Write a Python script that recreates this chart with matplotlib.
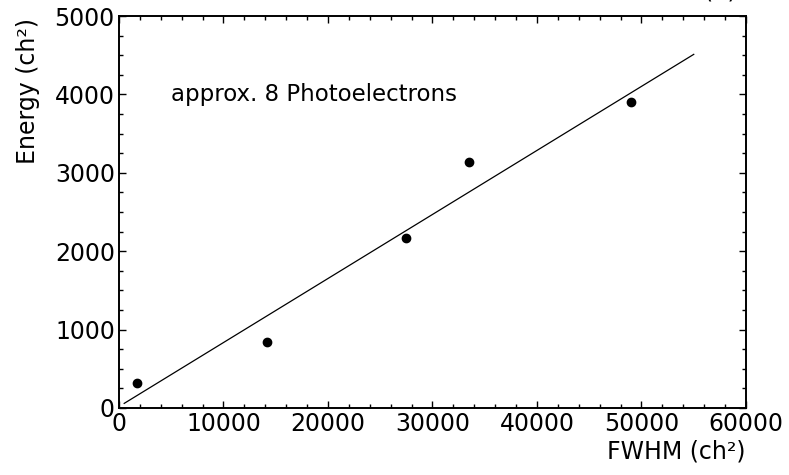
import numpy as np
from matplotlib import pyplot as plt
from matplotlib.ticker import MultipleLocator

# measured points
fwhm = [1700, 14200, 27450, 33500, 49000]
energy = [320, 840, 2170, 3140, 3900]
fit_range = [500, 55000]

plt.rcParams['font.family'] = 'DejaVu Sans'

fig = plt.figure(figsize=(7.89, 4.75), dpi=100)
ax = fig.add_axes([0.1508, 0.1411, 0.7947, 0.8252])

ax.plot(fwhm, energy, 'o', color='k', markersize=6)

# straight-line fit through the points
k, b = np.polyfit(fwhm, energy, 1)
xf = np.array(fit_range)
ax.plot(xf, k * xf + b, color='k', lw=0.9)

ax.set_xlim(0, 60000)
ax.set_ylim(0, 5000)
ax.xaxis.set_major_locator(MultipleLocator(10000))
ax.xaxis.set_minor_locator(MultipleLocator(2000))
ax.yaxis.set_major_locator(MultipleLocator(1000))
ax.yaxis.set_minor_locator(MultipleLocator(250))
ax.tick_params(which='both', direction='in', top=True, right=True,
               labeltop=False, labelright=False, width=1)
ax.tick_params(which='major', length=5, labelsize=17, pad=3)
ax.tick_params(which='minor', length=3)
for s in ax.spines.values():
    s.set_linewidth(1.4)

ax.text(5000, 4000, 'approx. 8 Photoelectrons', fontsize=16.5, va='center')
fig.text(0.945, 0.025, 'FWHM (ch²)', fontsize=17, ha='right', va='bottom')
fig.text(0.035, 0.962, 'Energy (ch²)', fontsize=17, rotation=90,
         ha='center', va='top')
fig.text(0.913, 0.994, '(a)', fontsize=17, ha='center', va='bottom')

fig.savefig('out.png', dpi=100)
